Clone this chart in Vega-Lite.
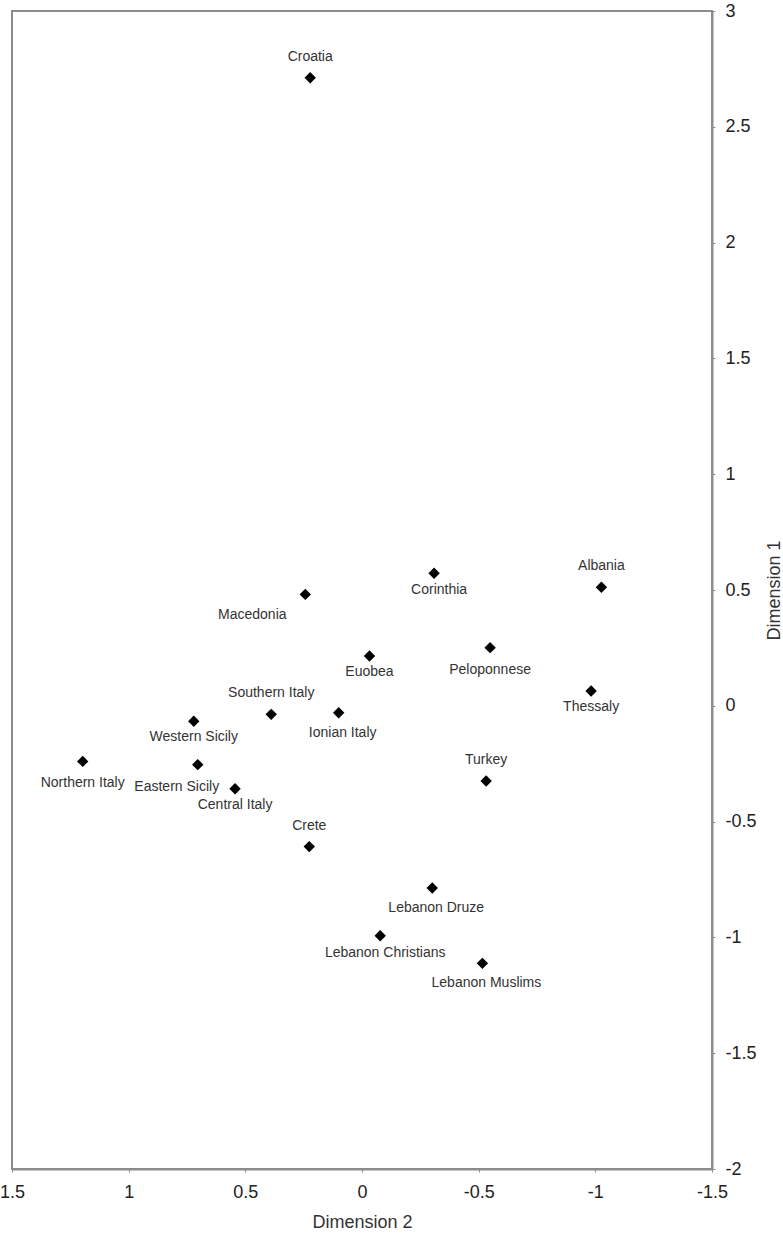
{
  "$schema": "https://vega.github.io/schema/vega-lite/v6.json",
  "width": 700,
  "height": 1158,
  "autosize": {"type": "none"},
  "padding": {"left": 12, "top": 11, "right": 71, "bottom": 67},
  "background": "white",
  "config": {
    "font": "Liberation Sans",
    "view": {"stroke": "#8c8c8c", "strokeWidth": 2},
    "axis": {
      "grid": false,
      "domainColor": "#8c8c8c",
      "domainWidth": 2,
      "tickColor": "#8c8c8c",
      "tickSize": 3,
      "labelFont": "Liberation Sans",
      "labelFontSize": 18,
      "labelColor": "#222222",
      "labelExpr": "toString(datum.value)",
      "titleFont": "Liberation Sans",
      "titleFontSize": 18,
      "titleFontWeight": "normal",
      "titleColor": "#333333"
    }
  },
  "data": {
    "values": [
      {"name": "Croatia", "dim2": 0.222, "dim1": 2.712},
      {"name": "Macedonia", "dim2": 0.243, "dim1": 0.481},
      {"name": "Corinthia", "dim2": -0.309, "dim1": 0.572},
      {"name": "Albania", "dim2": -1.026, "dim1": 0.512},
      {"name": "Euobea", "dim2": -0.032, "dim1": 0.215},
      {"name": "Peloponnese", "dim2": -0.549, "dim1": 0.251},
      {"name": "Thessaly", "dim2": -0.982, "dim1": 0.064},
      {"name": "Southern Italy", "dim2": 0.389, "dim1": -0.037},
      {"name": "Ionian Italy", "dim2": 0.1, "dim1": -0.03},
      {"name": "Western Sicily", "dim2": 0.721, "dim1": -0.067},
      {"name": "Northern Italy", "dim2": 1.197, "dim1": -0.24},
      {"name": "Eastern Sicily", "dim2": 0.704, "dim1": -0.254},
      {"name": "Central Italy", "dim2": 0.544, "dim1": -0.358},
      {"name": "Turkey", "dim2": -0.532, "dim1": -0.325},
      {"name": "Crete", "dim2": 0.226, "dim1": -0.608},
      {"name": "Lebanon Druze", "dim2": -0.301, "dim1": -0.787},
      {"name": "Lebanon Christians", "dim2": -0.078, "dim1": -0.993},
      {"name": "Lebanon Muslims", "dim2": -0.516, "dim1": -1.112}
    ]
  },
  "encoding": {
    "x": {
      "field": "dim2", "type": "quantitative",
      "scale": {"domain": [-1.5, 1.5], "reverse": true, "nice": false, "zero": false},
      "axis": {"title": "Dimension 2", "values": [1.5, 1, 0.5, 0, -0.5, -1, -1.5], "labelPadding": 11, "titlePadding": 12, "labelFlush": false}
    },
    "y": {
      "field": "dim1", "type": "quantitative",
      "scale": {"domain": [-2, 3], "nice": false, "zero": false},
      "axis": {"orient": "right", "title": "Dimension 1", "titleAngle": 270, "values": [3, 2.5, 2, 1.5, 1, 0.5, 0, -0.5, -1, -1.5, -2], "labelPadding": 10, "titlePadding": 27, "labelFlush": false}
    }
  },
  "layer": [
    {"mark": {"type": "point", "shape": "diamond", "filled": true, "color": "black", "opacity": 1, "size": 130}},
    {
      "transform": [{"filter": {"field": "name", "oneOf": ["Croatia", "Albania", "Southern Italy", "Turkey", "Crete"]}}],
      "mark": {"type": "text", "fontSize": 14, "color": "#333333", "baseline": "middle", "dy": -21},
      "encoding": {"text": {"field": "name"}}
    },
    {
      "transform": [{"filter": {"field": "name", "oneOf": ["Euobea", "Western Sicily", "Central Italy", "Thessaly"]}}],
      "mark": {"type": "text", "fontSize": 14, "color": "#333333", "baseline": "middle", "dy": 16},
      "encoding": {"text": {"field": "name"}}
    },
    {
      "transform": [{"filter": {"field": "name", "oneOf": ["Corinthia", "Lebanon Christians"]}}],
      "mark": {"type": "text", "fontSize": 14, "color": "#333333", "baseline": "middle", "dy": 17, "dx": 5},
      "encoding": {"text": {"field": "name"}}
    },
    {
      "transform": [{"filter": {"field": "name", "oneOf": ["Peloponnese", "Northern Italy"]}}],
      "mark": {"type": "text", "fontSize": 14, "color": "#333333", "baseline": "middle", "dy": 22},
      "encoding": {"text": {"field": "name"}}
    },
    {
      "transform": [{"filter": {"field": "name", "oneOf": ["Lebanon Druze", "Lebanon Muslims", "Ionian Italy"]}}],
      "mark": {"type": "text", "fontSize": 14, "color": "#333333", "baseline": "middle", "dy": 20, "dx": 4},
      "encoding": {"text": {"field": "name"}}
    },
    {
      "transform": [{"filter": {"field": "name", "equal": "Macedonia"}}],
      "mark": {"type": "text", "fontSize": 14, "color": "#333333", "baseline": "middle", "dy": 21, "dx": -53},
      "encoding": {"text": {"field": "name"}}
    },
    {
      "transform": [{"filter": {"field": "name", "equal": "Eastern Sicily"}}],
      "mark": {"type": "text", "fontSize": 14, "color": "#333333", "baseline": "middle", "dy": 22, "dx": -21},
      "encoding": {"text": {"field": "name"}}
    }
  ]
}
